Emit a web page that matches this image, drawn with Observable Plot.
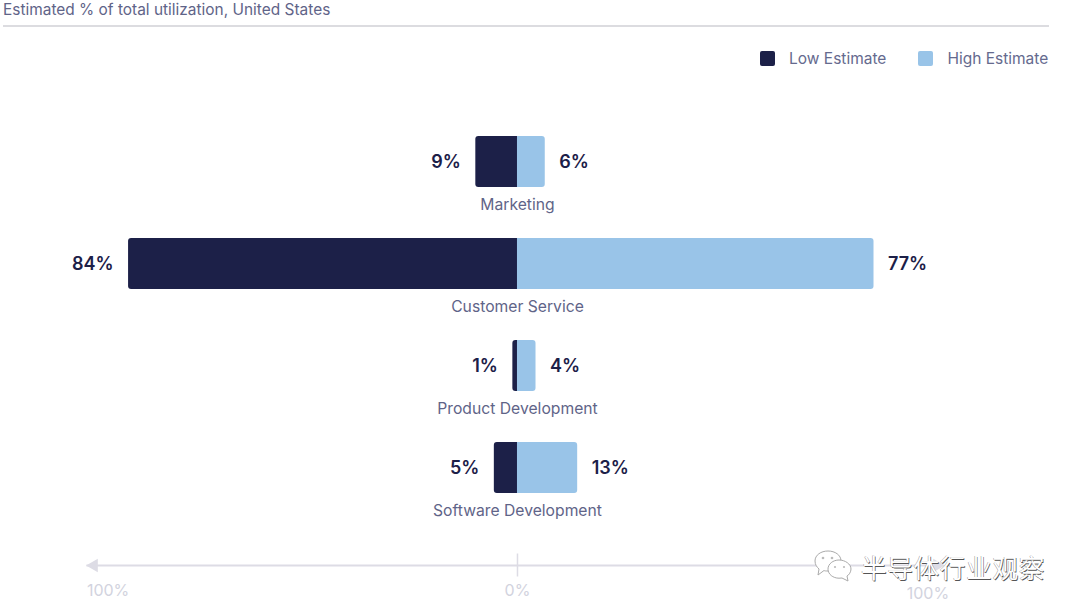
<!DOCTYPE html>
<html><head><meta charset="utf-8">
<script src="https://cdn.jsdelivr.net/npm/d3@7"></script>
<script src="https://cdn.jsdelivr.net/npm/@observablehq/plot@0.6"></script>
<style>
html,body{margin:0;padding:0;background:#fff;width:1080px;height:616px;overflow:hidden;font-family:Inter,sans-serif;}
#wrap{position:relative;width:1080px;height:616px;}
#title{position:absolute;left:3px;top:0;width:1046px;height:25px;border-bottom:2px solid #dcdce0;color:#5f6488;font-size:15.45px;line-height:19px;white-space:nowrap;}
#legend{position:absolute;top:48px;left:760px;height:20px;display:flex;align-items:center;color:#656a8e;font-size:15.5px;white-space:nowrap;}
#legend i{display:inline-block;width:15px;height:15px;border-radius:2px;margin-right:14px;}
#legend span{display:flex;align-items:center;}
#chart{position:absolute;left:0;top:88px;}
#wm{position:absolute;left:812px;top:549px;width:260px;height:36px;display:flex;align-items:center;}
#wm b{font:400 25.7px/1 "Noto Sans CJK SC";letter-spacing:.6px;color:#fff;margin-left:3px;text-shadow:.7px .7px .6px #555,-.5px -.5px .5px #999;white-space:nowrap;}
</style></head><body>
<div id="wrap">
<div id="title">Estimated % of total utilization, United States</div>
<div id="legend"></div>
<div id="chart"></div>
<div id="wm"><svg width="46" height="36" viewBox="0 0 46 36"><g fill="#fff" stroke="#aaa" stroke-width="1"><path d="M3 12c0-6 6-10 13-10s13 4 13 10-6 10-13 10c-2 0-3 0-4-.5L6 26l1-6c-2-2-4-4-4-8z"/><path d="M16 20c0-5 5-9 11-9s12 4 12 9c0 3-2 6-4 7l1 5-6-3c-1 0-2 .2-3 .2-6 0-11-4-11-9z"/></g><g fill="#bbb"><circle cx="11" cy="9" r="1.3"/><circle cx="20" cy="9" r="1.3"/><circle cx="23" cy="18" r="1.1"/><circle cx="32" cy="18" r="1.1"/></g></svg><b>半导体行业观察</b></div>
</div>
<script>
const categories = ["Marketing", "Customer Service", "Product Development", "Software Development"];
const lowEstimate = [9, 84, 1, 5];
const highEstimate = [6, 77, 4, 13];
const seriesNames = ["Low Estimate", "High Estimate"];
const seriesColors = ["#1c2048", "#99c4e8"];
const axisRow = "axis";
const axisStops = [-93, 0, 91.5];
const axisLabels = ["100%", "0%", "100%"];

const NAVY = seriesColors[0], BLUE = seriesColors[1], AXIS = "#dddce5", AXTXT = "#d2d3de", CAT = "#5f6488";
const idx = d3.range(categories.length);

document.getElementById("legend").innerHTML = seriesNames.map((n, i) =>
  `<span style="margin-right:${i ? 0 : 32}px"><i style="background:${seriesColors[i]}"></i>${n}</span>`).join("");

const fnt = "Inter, sans-serif";
const plot = Plot.plot({
  width: 1080, height: 528,
  marginTop: 48, marginBottom: 21, marginLeft: 0, marginRight: 0,
  style: {background: "transparent", fontFamily: fnt},
  x: {domain: [-111.66, 121.6], range: [0, 1080], axis: null},
  y: {domain: [...categories, axisRow], paddingInner: 0.5, paddingOuter: 0, axis: null},
  marks: [
    Plot.barX(idx, {x1: 0, x2: i => -lowEstimate[i], y: i => categories[i], fill: NAVY, rx1: 3}),
    Plot.barX(idx, {x1: 0, x2: i => highEstimate[i], y: i => categories[i], fill: BLUE, rx2: 3}),
    Plot.text(idx, {x: i => -lowEstimate[i], y: i => categories[i], text: i => lowEstimate[i] + "%", textAnchor: "end", dx: -15, dy: 0, fontSize: 18, fontWeight: 600, fill: NAVY}),
    Plot.text(idx, {x: i => highEstimate[i], y: i => categories[i], text: i => highEstimate[i] + "%", textAnchor: "start", dx: 14, dy: 0, fontSize: 18, fontWeight: 600, fill: NAVY}),
    Plot.text(idx, {x: 0, y: i => categories[i], text: i => categories[i], dy: 42.5, fontSize: 15.7, fill: CAT}),
    // axis
    Plot.ruleY([axisRow], {x1: axisStops[0], x2: axisStops[2], y: d => d, stroke: AXIS, strokeWidth: 2, dy: -4.5}),
    Plot.tickX([axisStops[1]], {x: d => d, y: () => axisRow, stroke: AXIS, strokeWidth: 1.5, dy: -4.5, insetTop: 14, insetBottom: 14}),
    Plot.dot([axisStops[0]], {x: d => d, y: () => axisRow, symbol: "triangle", rotate: -90, r: 5, fill: AXIS, dy: -4.5, dx: 7}),
    Plot.dot([axisStops[2]], {x: d => d, y: () => axisRow, symbol: "triangle", rotate: 90, r: 5, fill: AXIS, dy: -4.5, dx: -4}),
    Plot.text(axisStops, {x: d => d, y: () => axisRow, text: (d, i) => axisLabels[i], textAnchor: "start", dy: 20.5, fontSize: 16, fill: AXTXT, filter: d => d < 0}),
    Plot.text(axisStops, {x: d => d, y: () => axisRow, text: (d, i) => axisLabels[i], dy: 20.5, fontSize: 16, fill: AXTXT, filter: d => d === 0}),
    Plot.text(axisStops, {x: d => d, y: () => axisRow, text: (d, i) => axisLabels[i], textAnchor: "end", dy: 23.5, dx: 8, fontSize: 16, fill: AXTXT, filter: d => d > 0})
  ]
});
document.getElementById("chart").appendChild(plot);
</script>
</body></html>
